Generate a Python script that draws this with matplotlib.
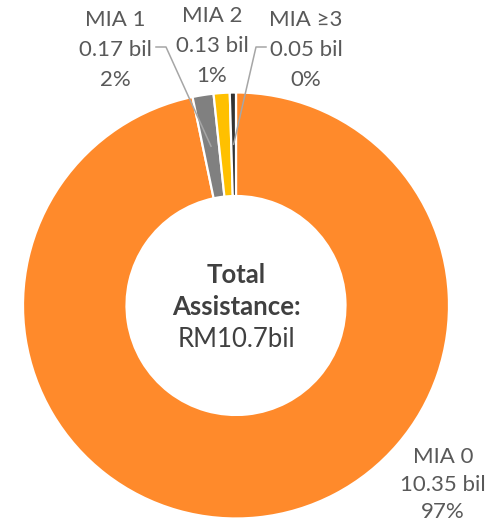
import numpy as np
import matplotlib.pyplot as plt

plt.rcParams['font.family'] = ['Lato', 'DejaVu Sans']

# MIA groups, assistance in RM billion
groups = ["MIA 0", "MIA 1", "MIA 2", "MIA \u22653"]
amounts = [10.35, 0.17, 0.13, 0.05]
pct_labels = ["97%", "2%", "1%", "0%"]
colors = ["#FF8A2B", "#808080", "#FFC000", "#333333"]
total_text = "RM10.7bil"

W, H = 494, 521
fig = plt.figure(figsize=(W / 100, H / 100), dpi=100)
ax = fig.add_axes([0, 0, 1, 1])

cx, cy = 236, H - 305.5
R = 213
ring = R * 0.486

wedges, _ = ax.pie(amounts, colors=colors, startangle=90, counterclock=False,
                   center=(cx, cy), radius=R,
                   wedgeprops=dict(width=ring, edgecolor="white", linewidth=1.6))
ax.set_xlim(0, W)
ax.set_ylim(0, H)
ax.set_aspect("equal")
ax.axis("off")

txt = "#595959"
fs = 16

def label(x, baselines, i):
    lines = [groups[i], "%.2f bil" % amounts[i], pct_labels[i]]
    for s, b in zip(lines, baselines):
        ax.text(x, H - b, s, ha="center", va="baseline", fontsize=fs, color=txt)

label(443, [463, 491, 517.5], 0)
label(115, [26, 56, 86], 1)
label(212, [22, 52, 82], 2)
label(306, [26, 56, 86], 3)

# leader lines to the two thin slices
def mid_point(w):
    a = np.deg2rad((w.theta1 + w.theta2) / 2)
    r = R - ring / 2
    return cx + r * np.cos(a), cy + r * np.sin(a)

lc = "#A6A6A6"
ex, ey = mid_point(wedges[1])
ax.plot([156, 166, ex], [H - 47, H - 47, ey], color=lc, lw=1.1)
ex, ey = mid_point(wedges[3])
ax.plot([266, 256, ex], [H - 47, H - 47, ey], color=lc, lw=1.1)

# centre text
ctc = "#404040"
ax.text(cx, H - 283, "Total", ha="center", va="baseline", fontsize=18.5,
        fontweight="bold", color=ctc)
ax.text(cx, H - 315, "Assistance:", ha="center", va="baseline", fontsize=18.5,
        fontweight="bold", color=ctc)
ax.text(cx, H - 347, total_text, ha="center", va="baseline", fontsize=18.5,
        color=ctc)

fig.savefig("out.png", dpi=100)
